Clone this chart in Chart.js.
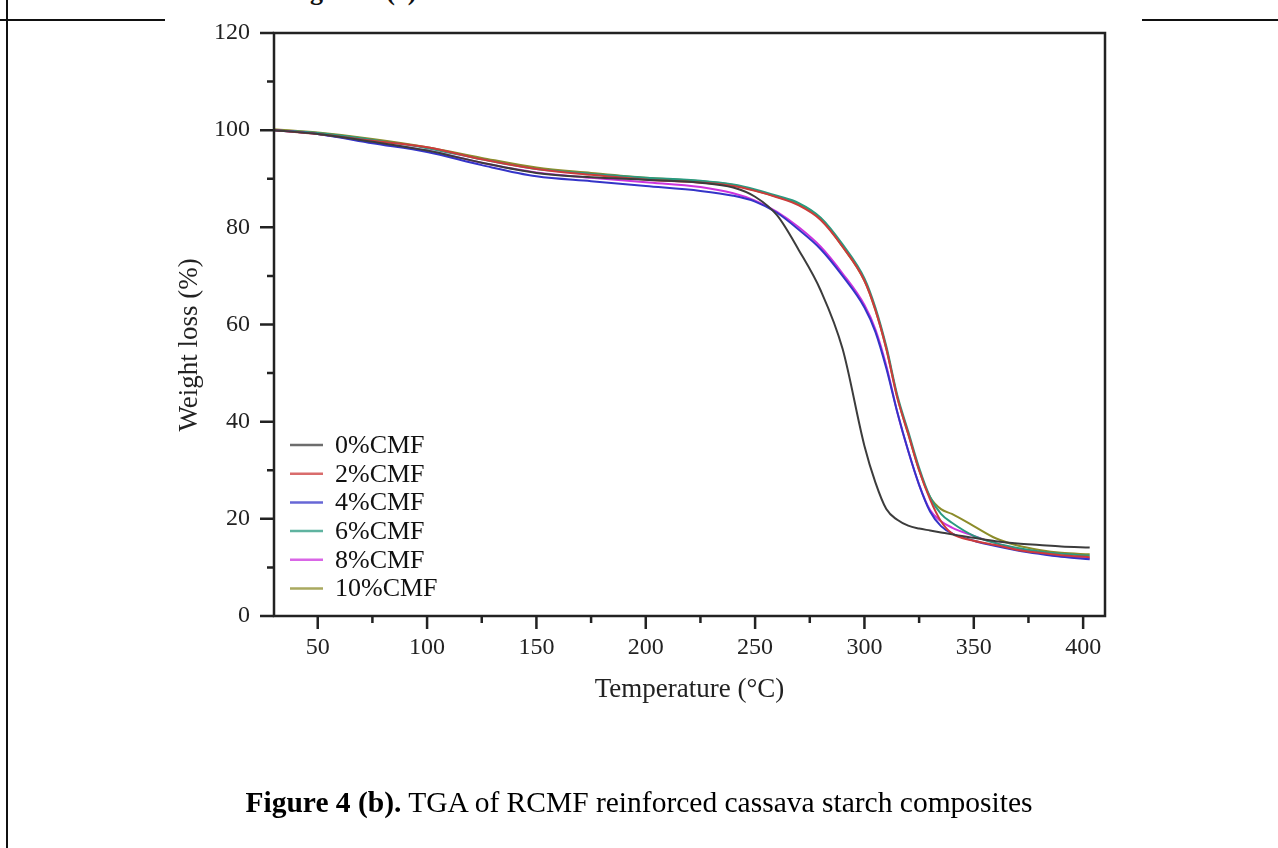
<!DOCTYPE html>
<html>
<head>
<meta charset="utf-8">
<script src="https://cdn.jsdelivr.net/npm/chart.js@4/dist/chart.umd.min.js"></script>
<style>
  html, body { margin: 0; padding: 0; background: #fff; }
  body { width: 1278px; height: 848px; position: relative; overflow: hidden; font-family: "Liberation Serif", "DejaVu Serif", serif; }
  #wrap { position: absolute; left: 0; top: 0; width: 1278px; height: 848px; }
  .rule { position: absolute; background: #111; }
  #topcap { position: absolute; left: 287px; top: -23px; font-size: 26px; font-weight: bold; color: #111; white-space: nowrap; }
  #caption { position: absolute; left: 0; width: 1278px; top: 786px; text-align: center; font-size: 29.5px; color: #000; }
</style>
</head>
<body>
<div id="topcap">Figure 4 (a).</div>
<div class="rule" style="left:6px; top:0; width:2px; height:848px;"></div>
<div class="rule" style="left:0; top:19px; width:165px; height:2px;"></div>
<div class="rule" style="left:1142px; top:19px; width:136px; height:2px;"></div>
<div id="wrap"><canvas id="tga" width="1278" height="848"></canvas></div>
<div id="caption"><b>Figure 4 (b).</b> TGA of RCMF reinforced cassava starch composites</div>
<script>
// temperature grid (°C) and weight (%)
const temps = [30, 50, 75, 100, 125, 150, 175, 200, 225, 240, 250, 260, 270, 280, 290, 300, 305, 310, 315, 320, 325, 330, 335, 340, 350, 360, 370, 380, 390, 403];
const cmf0  = [100, 99.2, 97.6, 95.8, 93.3, 91.2, 90.3, 89.8, 89.2, 88.2, 86.3, 82.5, 75.3, 67, 55, 35, 27.5, 22, 19.8, 18.6, 18, 17.6, 17.2, 16.8, 16.1, 15.4, 14.9, 14.6, 14.3, 14.1];
const cmf2  = [100, 99.2, 97.8, 96.5, 94, 92, 90.8, 89.8, 89.2, 88.5, 87.5, 86.2, 84.5, 81.5, 76, 69, 63, 55, 45, 37.5, 30, 24, 19.5, 17, 15.5, 14.6, 13.6, 13, 12.5, 12.1];
const cmf4  = [100, 99.2, 97.3, 95.5, 92.8, 90.5, 89.5, 88.5, 87.5, 86.5, 85.3, 83, 79.5, 75.5, 70, 63.5, 58.5, 51, 42, 34, 27, 21.5, 18.5, 17, 15.5, 14.4, 13.5, 12.8, 12.2, 11.7];
const cmf6  = [100, 99.4, 98, 96.3, 94, 92, 91, 90.2, 89.6, 88.8, 87.8, 86.5, 85, 82, 76.5, 69.5, 63.5, 55.5, 45.5, 38, 30.5, 24.5, 21, 19.2, 16.5, 15, 14, 13.3, 12.8, 12.4];
const cmf8  = [100, 99.2, 97.5, 95.8, 93.3, 91.3, 90.2, 89.3, 88.3, 87, 85.5, 83.2, 80, 76, 70.5, 64, 59, 51.5, 42, 34, 27, 21.8, 19.5, 18.2, 16.5, 15, 13.8, 12.9, 12.3, 11.9];
const cmf10 = [100.2, 99.5, 98.2, 96.5, 94.3, 92.3, 91.2, 90.2, 89.5, 88.7, 87.6, 86.3, 84.8, 81.8, 76, 69, 63, 55, 45, 37.5, 30, 24.5, 22, 21, 18.5, 16, 14.5, 13.6, 13, 12.7];

const seriesNames = ["0%CMF", "2%CMF", "4%CMF", "6%CMF", "8%CMF", "10%CMF"];
const seriesColors = ["#3c3c3c", "#cc3b3b", "#3434c8", "#2a9a80", "#cc33dd", "#8c8c2a"];
const seriesValues = [cmf0, cmf2, cmf4, cmf6, cmf8, cmf10];

const xMajor = [50, 100, 150, 200, 250, 300, 350, 400];
const xMinor = [75, 125, 175, 225, 275, 325, 375];
const yMajor = [0, 20, 40, 60, 80, 100, 120];
const yMinor = [10, 30, 50, 70, 90, 110];

const INK = "#222";
const SERIF = "'Liberation Serif', 'Times New Roman', serif";

// frame, outward ticks, y title and the in-plot legend
const framePlugin = {
  id: 'frame',
  afterDraw(chart) {
    const { ctx, chartArea: a, scales: { x, y } } = chart;
    ctx.save();
    ctx.strokeStyle = INK;
    ctx.lineWidth = 2.5;
    ctx.strokeRect(a.left, a.top, a.right - a.left, a.bottom - a.top);
    ctx.beginPath();
    xMajor.forEach(v => { const px = x.getPixelForValue(v); ctx.moveTo(px, a.bottom); ctx.lineTo(px, a.bottom + 13); });
    xMinor.forEach(v => { const px = x.getPixelForValue(v); ctx.moveTo(px, a.bottom); ctx.lineTo(px, a.bottom + 7); });
    yMajor.forEach(v => { const py = y.getPixelForValue(v); ctx.moveTo(a.left, py); ctx.lineTo(a.left - 14, py); });
    yMinor.forEach(v => { const py = y.getPixelForValue(v); ctx.moveTo(a.left, py); ctx.lineTo(a.left - 7, py); });
    ctx.stroke();

    // y axis title, sitting a little below the middle as in the scan
    ctx.save();
    ctx.translate(a.left - 84, y.getPixelForValue(55.8));
    ctx.rotate(-Math.PI / 2);
    ctx.font = "27px " + SERIF;
    ctx.fillStyle = INK;
    ctx.textAlign = 'center';
    ctx.textBaseline = 'middle';
    ctx.fillText('Weight loss (%)', 0, 0);
    ctx.restore();

    // legend, bottom-left inside the plot
    ctx.font = "26px " + SERIF;
    ctx.textBaseline = 'middle';
    ctx.fillStyle = "#111";
    chart.data.datasets.forEach((ds, i) => {
      const cy = a.top + 412 + i * 28.7;
      ctx.strokeStyle = ds.borderColor;
      ctx.globalAlpha = 0.75;
      ctx.lineWidth = 2.5;
      ctx.beginPath();
      ctx.moveTo(a.left + 16, cy);
      ctx.lineTo(a.left + 49, cy);
      ctx.stroke();
      ctx.globalAlpha = 1;
      ctx.fillText(ds.label, a.left + 61, cy + 1);
    });
    ctx.restore();
  }
};

new Chart(document.getElementById('tga').getContext('2d'), {
  type: 'line',
  data: {
    datasets: seriesNames.map((name, i) => ({
      label: name,
      data: temps.map((t, j) => ({ x: t, y: seriesValues[i][j] })),
      borderColor: seriesColors[i],
      borderWidth: 2,
      pointRadius: 0,
      cubicInterpolationMode: 'monotone',
      fill: false
    }))
  },
  options: {
    responsive: false,
    animation: false,
    layout: { padding: { left: 175, top: 33, right: 173, bottom: 142 } },
    plugins: { legend: { display: false }, tooltip: { enabled: false } },
    scales: {
      x: {
        type: 'linear',
        min: 30,
        max: 410,
        afterFit(s) { s.height = 90; s.paddingLeft = 0; s.paddingRight = 0; },
        afterBuildTicks(s) { s.ticks = xMajor.map(v => ({ value: v })); },
        grid: { display: false, drawTicks: false },
        border: { display: false },
        ticks: { padding: 17, color: INK, font: { family: SERIF, size: 24 }, maxRotation: 0 },
        title: { display: true, text: 'Temperature (°C)', color: INK, padding: 0, font: { family: SERIF, size: 27 } }
      },
      y: {
        type: 'linear',
        min: 0,
        max: 120,
        afterFit(s) { s.width = 99; s.paddingTop = 0; s.paddingBottom = 0; },
        afterBuildTicks(s) { s.ticks = yMajor.map(v => ({ value: v })); },
        grid: { display: false, drawTicks: false },
        border: { display: false },
        ticks: { padding: 24, color: INK, font: { family: SERIF, size: 24 } }
      }
    }
  },
  plugins: [framePlugin]
});
</script>
</body>
</html>
